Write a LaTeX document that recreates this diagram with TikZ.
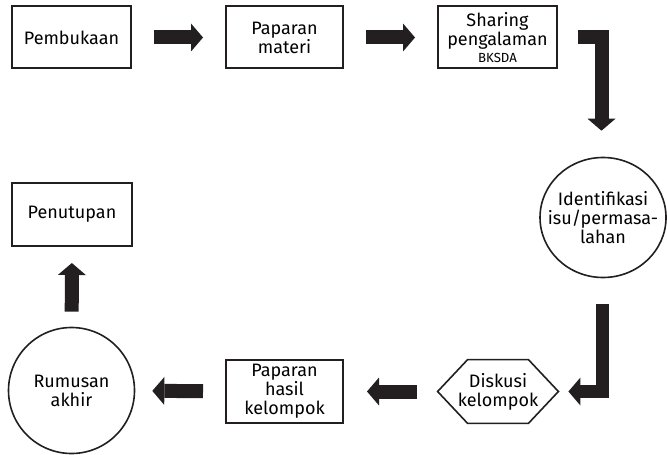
\documentclass[tikz,border=0pt]{standalone}
\usepackage{fontspec}
\setmainfont{Fira Sans}
\usetikzlibrary{
    shapes.geometric,
    arrows.meta,
    positioning,
    calc
}
\definecolor{ink}{HTML}{231F20}

\begin{document}
\begin{tikzpicture}[
                x=0.5pt, y=-0.5pt,
                block/.style={draw=ink, line width=1pt, minimum width=59.5pt, minimum height=31pt, inner sep=1pt, align=center, font=\fontsize{9}{9.5}\selectfont},
                round/.style={draw=ink, line width=0.8pt, circle, minimum size=63pt, inner sep=1pt, align=center, font=\fontsize{9}{9.5}\selectfont},
                label/.style={inner sep=0pt, align=center, font=\fontsize{9}{9.5}\selectfont},
                hexa/.style={minimum width=60pt, minimum height=31.5pt, inner sep=1pt, align=center, font=\fontsize{9}{9.5}\selectfont},
                bigarrow/.style={draw=ink, line width=7pt, -{Triangle[length=6pt, width=14pt, line width=0pt]}}
            ]
                \useasboundingbox (0,0) rectangle (667,454);

                % Opening
                \node[block] (buka) at (71.5, 37.5) {Pembukaan};

                % Material
                \node[block, minimum width=58.5pt] (materi) at (284.5, 37.5) {Paparan\\materi};

                % Sharing
                \node[block] (sharing) at (497.5, 37.5) {Sharing\\pengalaman\\[-1pt]{\fontsize{6.6}{6.6}\selectfont BKSDA}};

                % Issues
                \node[draw=ink, line width=0.8pt, ellipse, inner sep=0pt, minimum width=63pt, minimum height=60pt] (isu) at (603, 217.5) {};
                \node[label] (isutext) at (isu) {Identifikasi\\isu/permasa-\\lahan};

                % Group discussion
                \node[hexa] (diskusi) at (498, 391.5) {Diskusi\\kelompok};
                \draw[ink, line width=0.8pt] (diskusi.west) -- ([xshift=15pt]diskusi.north west) -- ([xshift=-15pt]diskusi.north east)
                    -- (diskusi.east) -- ([xshift=-15pt]diskusi.south east) -- ([xshift=15pt]diskusi.south west) -- cycle;

                % Group results
                \node[block, minimum width=58.5pt, minimum height=31.5pt] (hasil) at (284.5, 391.5) {Paparan\\hasil\\kelompok};

                % Final formulation
                \node[round] (rumusan) at (71.5, 390.5) {Rumusan\\akhir};

                % Closing
                \node[block, minimum width=60pt, minimum height=31.5pt] (tutup) at (72, 214.5) {Penutupan};

                \draw[bigarrow, shorten <=11pt, shorten >=11pt] (buka) -- (materi);
                \draw[bigarrow, shorten <=11pt, shorten >=11pt] (materi) -- (sharing);
                \draw[bigarrow] ([xshift=10pt]sharing.east) -| ([xshift=-0.75pt, yshift=13pt]isu.north);
                \draw[bigarrow, line width=6.8pt] ([xshift=-0.25pt, yshift=-13pt]isu.south) |- ([xshift=5pt]diskusi.east);
                \draw[bigarrow, shorten <=10.5pt, shorten >=11.5pt] (diskusi) -- (hasil);
                \draw[bigarrow, shorten <=11pt, shorten >=8.5pt] (hasil) -- (rumusan);
                \draw[bigarrow, shorten <=7.5pt, shorten >=8pt] (rumusan) -- (tutup);
            \end{tikzpicture}
\end{document}
